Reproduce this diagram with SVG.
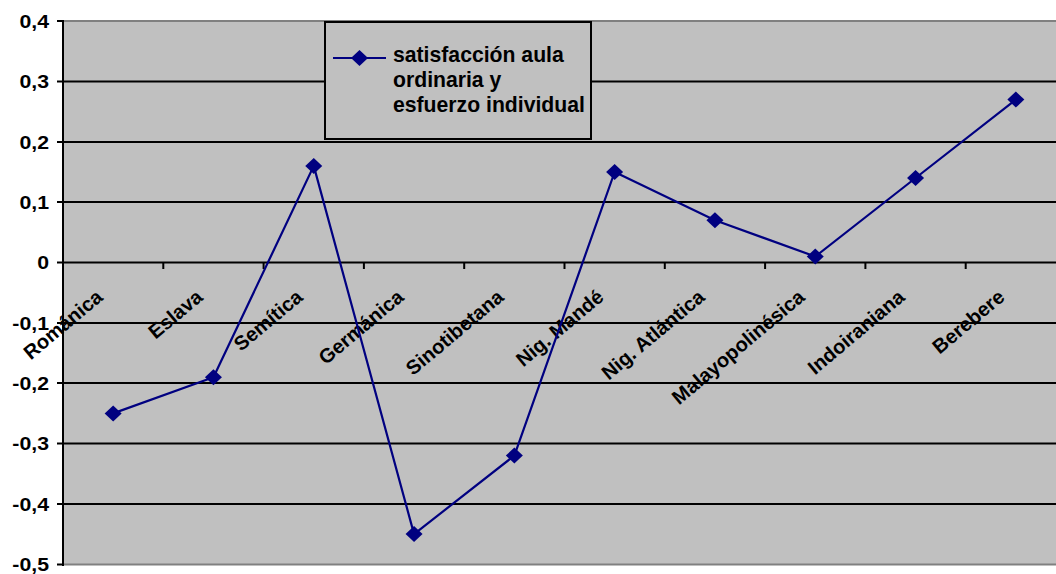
<svg xmlns="http://www.w3.org/2000/svg" width="1056" height="574" viewBox="0 0 1056 574">
<style>
.t{font-family:"Liberation Sans",Arial,sans-serif;font-weight:bold;font-size:18.5px;fill:#000}
.c{font-size:20px}
.l{font-size:21.2px}
.e{text-anchor:end}
.grid{stroke:#000;stroke-width:2;fill:none}
.border{stroke:#808080;stroke-width:2;fill:none}
.series{stroke:#000080;stroke-width:2.2;fill:none;stroke-linejoin:round}
.mk{fill:#000080}
</style>
<defs>
<path id="dia" d="M0,-8 L8.5,0 L0,8 L-8.5,0 Z"/>
</defs>
<rect width="1056" height="574" fill="#fff"/>
<g id="plot">
<rect x="63" y="21" width="993" height="543" fill="#C0C0C0"/>
<line class="border" x1="63" y1="21" x2="1056" y2="21"/>
<line class="border" x1="63" y1="564.5" x2="1056" y2="564.5"/>
<g class="grid">
<line x1="63" y1="81.5" x2="1056" y2="81.5"/>
<line x1="63" y1="142" x2="1056" y2="142"/>
<line x1="63" y1="202" x2="1056" y2="202"/>
<line x1="63" y1="262.5" x2="1056" y2="262.5"/>
<line x1="63" y1="323" x2="1056" y2="323"/>
<line x1="63" y1="383" x2="1056" y2="383"/>
<line x1="63" y1="443.5" x2="1056" y2="443.5"/>
<line x1="63" y1="504" x2="1056" y2="504"/>
</g>
</g>
<g id="axes" class="grid">
<line x1="63" y1="20" x2="63" y2="566"/>
<path d="M57,21H63M57,81.5H63M57,142H63M57,202H63M57,262.5H63M57,323H63M57,383H63M57,443.5H63M57,504H63M57,564.5H63"/>
<path d="M163.3,262.5V269M263.6,262.5V269M363.9,262.5V269M464.2,262.5V269M564.5,262.5V269M664.8,262.5V269M765.1,262.5V269M865.4,262.5V269M965.7,262.5V269"/>
</g>
<g id="ylabels">
<text class="t e" transform="translate(49,27.5) scale(1.15,1)">0,4</text>
<text class="t e" transform="translate(49,88) scale(1.15,1)">0,3</text>
<text class="t e" transform="translate(49,148.5) scale(1.15,1)">0,2</text>
<text class="t e" transform="translate(49,208.5) scale(1.15,1)">0,1</text>
<text class="t e" transform="translate(49,269) scale(1.15,1)">0</text>
<text class="t e" transform="translate(49,329.5) scale(1.15,1)">-0,1</text>
<text class="t e" transform="translate(49,389.5) scale(1.15,1)">-0,2</text>
<text class="t e" transform="translate(49,450) scale(1.15,1)">-0,3</text>
<text class="t e" transform="translate(49,510.5) scale(1.15,1)">-0,4</text>
<text class="t e" transform="translate(49,571) scale(1.15,1)">-0,5</text>
</g>
<g id="xlabels">
<text class="t c e" transform="translate(104,299) rotate(-40)">Románica</text>
<text class="t c e" transform="translate(204,299) rotate(-40)">Eslava</text>
<text class="t c e" transform="translate(304,299) rotate(-40)">Semítica</text>
<text class="t c e" transform="translate(405,299) rotate(-40)">Germánica</text>
<text class="t c e" transform="translate(505,299) rotate(-40)">Sinotibetana</text>
<text class="t c e" transform="translate(605,299) rotate(-40)">Nig. Mandé</text>
<text class="t c e" transform="translate(706,299) rotate(-40)">Nig. Atlántica</text>
<text class="t c e" transform="translate(806,299) rotate(-40)">Malayopolinésica</text>
<text class="t c e" transform="translate(906,299) rotate(-40)">Indoiraniana</text>
<text class="t c e" transform="translate(1006,299) rotate(-40)">Berebere</text>
</g>
<g id="connectors">
<polyline class="series" points="113.15,413.4 213.45,377.2 313.75,165.9 414.05,534.1 514.35,455.6 614.65,172 714.95,220.3 815.25,256.5 915.55,178 1015.85,99.6"/>
</g>
<g id="markers" class="mk">
<use href="#dia" x="113.15" y="413.4"/>
<use href="#dia" x="213.45" y="377.2"/>
<use href="#dia" x="313.75" y="165.9"/>
<use href="#dia" x="414.05" y="534.1"/>
<use href="#dia" x="514.35" y="455.6"/>
<use href="#dia" x="614.65" y="172"/>
<use href="#dia" x="714.95" y="220.3"/>
<use href="#dia" x="815.25" y="256.5"/>
<use href="#dia" x="915.55" y="178"/>
<use href="#dia" x="1015.85" y="99.6"/>
</g>
<g id="legend">
<rect x="325" y="22" width="266" height="117" fill="#C0C0C0" stroke="#000" stroke-width="2"/>
<line x1="333" y1="58" x2="386" y2="58" stroke="#000080" stroke-width="2.2"/>
<use href="#dia" x="359.5" y="58" class="mk"/>
<text class="t l" x="393" y="62">satisfacción aula</text>
<text class="t l" x="393" y="86.5">ordinaria y</text>
<text class="t l" x="393" y="111.5">esfuerzo individual</text>
</g>
</svg>
